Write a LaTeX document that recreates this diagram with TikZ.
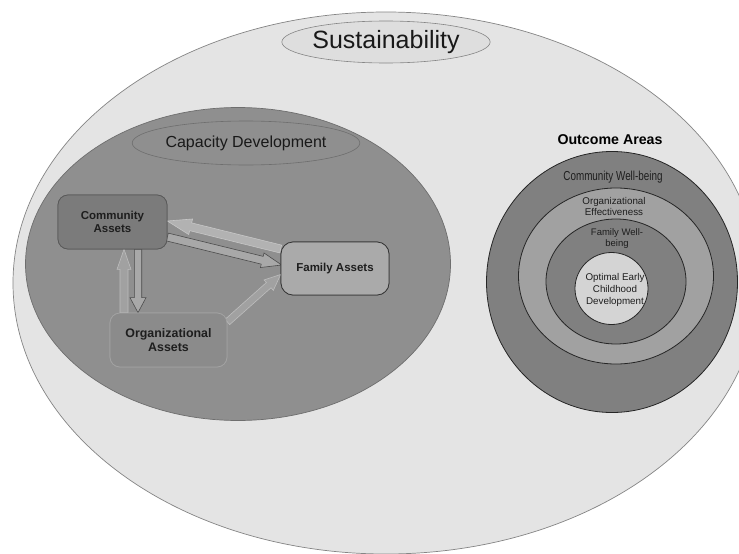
\documentclass[tikz,border=0pt]{standalone}
\usepackage{fontspec}
\setmainfont{Liberation Sans}
\usetikzlibrary{shapes.geometric,calc}

\definecolor{paleGray}{HTML}{E4E4E4}
\definecolor{paleEdge}{HTML}{858585}
\definecolor{capFill}{HTML}{8F8F8F}
\definecolor{capEdge}{HTML}{6E6E6E}
\definecolor{commFill}{HTML}{7B7B7B}
\definecolor{orgFill}{HTML}{8B8B8B}
\definecolor{famFill}{HTML}{AAAAAA}
\definecolor{ringDark}{HTML}{808080}
\definecolor{ringMid}{HTML}{A1A1A1}
\definecolor{ringCore}{HTML}{D4D4D4}
\definecolor{inkGray}{HTML}{1E1E1E}

% block arrow: style, from, to, shaft half width, head half width, head length
\newcommand\blockarr[6]{%
  \coordinate (bah) at ($(#3)!#6!(#2)$);
  \draw[#1] ($(#2)!#4!90:(#3)$) -- ($(bah)!#4!90:(#3)$) -- ($(bah)!#5!90:(#3)$)
    -- (#3) -- ($(bah)!#5!-90:(#3)$) -- ($(bah)!#4!-90:(#3)$)
    -- ($(#2)!#4!-90:(#3)$) -- cycle;}

\begin{document}
\begin{tikzpicture}[x=1pt,y=-1pt,
  blob/.style={ellipse, inner sep=0pt},
  assetbox/.style={rounded corners=10pt, inner sep=0pt, line width=0.7pt,
    font=\fontsize{11.5}{13.5}\selectfont\bfseries, text=inkGray, align=center},
  ring/.style={ellipse, inner sep=0pt, draw=black!85, line width=0.8pt},
  ringtext/.style={font=\fontsize{9.8}{11.5}\selectfont, text=inkGray, align=center},
  darkarr/.style={draw=black!70, fill=black!34, line width=0.6pt, line join=miter},
  lightarr/.style={draw=black!22, fill=black!30, line width=0.6pt, line join=miter},
  palearr/.style={draw=black!26, fill=black!37, line width=0.6pt, line join=miter}]
\useasboundingbox (0,0) rectangle (739,554);
\fill[white] (0,0) rectangle (739,554);
\begin{scope}
\clip (0,0) rectangle (739,554);

% sustainability field
\node[blob, draw=paleEdge, fill=paleGray, line width=0.7pt,
  minimum width=746pt, minimum height=542pt] (sustfield) at (386,283) {};
\node[blob, draw=paleEdge, fill=black!13, line width=0.6pt,
  minimum width=198pt, minimum height=42pt,
  font=\fontsize{25}{28}\selectfont, text=black!90] (sust) at (386,42) {Sustainability};

% capacity development field
\node[blob, draw=capEdge, fill=capFill, line width=0.7pt,
  minimum width=425pt, minimum height=313pt] (capfield) at (238,264) {};
\node[blob, draw=capEdge, fill=capFill, line width=0.6pt,
  minimum width=194pt, minimum height=44pt,
  font=\fontsize{16}{19}\selectfont, text=black!90] (cap) at (246,143) {Capacity Development};

% asset boxes
\node[assetbox, draw=black!65, fill=commFill, minimum width=109pt, minimum height=54pt]
  (ca) at (112.5,222) {Community\\Assets};
\node[assetbox, draw=black!80, fill=famFill, minimum width=108pt, minimum height=53pt,
  rounded corners=12pt] (fa) at (335,268.5) {Family Assets};
\node[assetbox, draw=black!36, fill=orgFill, minimum width=117pt, minimum height=54pt,
  font=\fontsize{12.4}{14.5}\selectfont\bfseries] (oa) at (168.5,340) {Organizational\\Assets};

% arrow end points on the boxes
\coordinate (c2fs) at ($(ca.east)+(0,15)$);
\coordinate (c2fe) at ($(fa.west)+(1,-3.5)$);
\coordinate (f2cs) at ($(fa.west)+(0,-19.5)$);
\coordinate (f2ce) at ($(ca.east)+(0,-1)$);
\coordinate (c2os) at ($(ca.south)+(25.5,0)$);
\coordinate (c2oe) at ($(oa.north)+(-30.5,0)$);
\coordinate (o2cs) at ($(oa.north)+(-44.5,0)$);
\coordinate (o2ce) at ($(ca.south)+(11.5,0)$);
\coordinate (o2fs) at ($(oa.east)+(0,-18)$);
\coordinate (o2fe) at ($(fa.west)+(0,6)$);

\blockarr{palearr}{o2fs}{o2fe}{3.5pt}{7pt}{16pt}
\blockarr{palearr}{o2cs}{o2ce}{4pt}{7pt}{20pt}
\blockarr{darkarr}{c2os}{c2oe}{3.7pt}{8pt}{15pt}
\blockarr{lightarr}{f2cs}{f2ce}{4pt}{8pt}{24pt}
\blockarr{darkarr}{c2fs}{c2fe}{4pt}{7.5pt}{20pt}

% redraw boxes over arrow tails
\node[assetbox, draw=black!65, fill=commFill, minimum width=109pt, minimum height=54pt]
  at (ca) {Community\\Assets};
\node[assetbox, draw=black!80, fill=famFill, minimum width=108pt, minimum height=53pt,
  rounded corners=12pt] at (fa) {Family Assets};
\node[assetbox, draw=black!36, fill=orgFill, minimum width=117pt, minimum height=54pt,
  font=\fontsize{12.4}{14.5}\selectfont\bfseries] at (oa) {Organizational\\Assets};

% outcome areas
\node[font=\fontsize{14.2}{16}\selectfont\bfseries, text=black] (oatitle) at (610,140) {Outcome Areas};
\node[ring, fill=ringDark, minimum width=251pt, minimum height=261pt] (r1) at (612,282) {};
\node[ring, fill=ringMid, minimum width=195pt, minimum height=176pt] (r2) at (616,276) {};
\node[ring, fill=ringDark, minimum width=140pt, minimum height=125pt] (r3) at (616,281.5) {};
\node[ring, fill=ringCore, minimum width=73pt, minimum height=72pt] (r4) at (611.5,288.5) {};

\node[ringtext, font=\fontsize{13}{15}\selectfont, xscale=0.76] (t1) at (613,177) {Community Well-being};
\node[ringtext] (t2) at (614,206.5) {Organizational\\Effectiveness};
\node[ringtext, font=\fontsize{9.5}{11}\selectfont] (t3) at (617,238.5) {Family Well-\\being};
\node[ringtext, font=\fontsize{9.8}{12}\selectfont] (t4) at (615,290) {Optimal Early\\Childhood\\Development};
\end{scope}
\end{tikzpicture}
\end{document}
